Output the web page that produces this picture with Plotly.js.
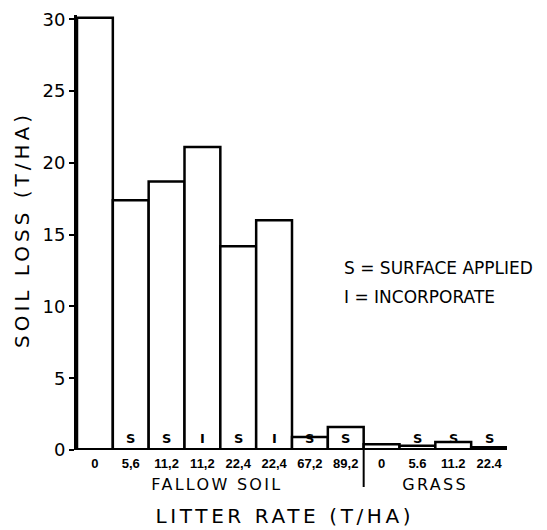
<!DOCTYPE html>
<html><head><meta charset="utf-8">
<script src="https://cdn.plot.ly/plotly-3.0.1.min.js"></script>
<style>html,body{margin:0;padding:0;background:#fff;}#c{width:547px;height:530px;}</style>
</head><body><div id="c"></div>
<script>
const rateLabels = ["0","5,6","11,2","11,2","22,4","22,4","67,2","89,2","0","5.6","11.2","22.4"];
const soilLoss = [30.1, 17.4, 18.7, 21.1, 14.2, 16.0, 0.9, 1.6, 0.4, 0.3, 0.55, 0.2];
const treatment = ["", "S", "S", "I", "S", "I", "S", "S", "", "S", "S", "S"];
const groups = ["FALLOW SOIL", "GRASS"];
const legendLines = ["S = SURFACE APPLIED", "I = INCORPORATE"];
const xTitle = "LITTER RATE (T/HA)";
const yTitle = "SOIL LOSS (T/HA)";

const idx = soilLoss.map((_, i) => i);
const font = "DejaVu Sans, Liberation Sans, sans-serif";
const tickFontFamily = "Liberation Sans, Arial, sans-serif";
const L = 77, R = 40, T = 15, B = 80, W = 547, H = 530;
const PW = W - L - R, PH = H - T - B;
const px = x => (x - L) / PW;
const py = y => 1 - (y - T) / PH;

const spacing = {};
const annotations = [];
treatment.forEach((t, i) => {
  if (t) annotations.push({x: i, y: 0, xref: "x", yref: "y", text: "<b>" + t + "</b>", showarrow: false,
    yanchor: "bottom", yshift: 2, font: {family: font, size: 13, color: "#000"}});
});
const groupPos = [[217, 484], [435, 484]];
groups.forEach((g, k) => {
  annotations.push({x: px(groupPos[k][0]), y: py(groupPos[k][1]), xref: "paper", yref: "paper", text: g, showarrow: false,
    yanchor: "middle", xanchor: "center", borderpad: 0, font: {family: font, size: 16, color: "#000"}});
  spacing[g] = 2.3;
});
legendLines.forEach((l, k) => {
  annotations.push({x: px(342), y: py(268 + 29 * k), xref: "paper", yref: "paper",
    text: l, showarrow: false, xanchor: "left", yanchor: "middle", font: {family: font, size: 17, color: "#000"}});
});
annotations.push({x: px(285), y: py(530), xref: "paper", yref: "paper", text: xTitle, showarrow: false,
  xanchor: "center", yanchor: "bottom", font: {family: font, size: 20, color: "#000"}});
spacing[xTitle] = 3.6;
annotations.push({x: px(22), y: py(230), xref: "paper", yref: "paper", text: yTitle, showarrow: false, textangle: -90,
  xanchor: "center", yanchor: "middle", font: {family: font, size: 20, color: "#000"}});
spacing[yTitle] = 4;

const shapes = [
  {type: "line", xref: "x", yref: "paper", x0: 7.5, x1: 7.5, y0: 0, y1: -37 / PH, line: {color: "#000", width: 2}},
  {type: "line", xref: "x", yref: "y", x0: -0.55, x1: 11.55, y0: 0, y1: 0, line: {color: "#000", width: 4}}
];

const trace = {
  type: "bar", x: idx, y: soilLoss, width: 1,
  marker: {color: "#fff", line: {color: "#000", width: 2.5}},
  cliponaxis: false, hoverinfo: "none"
};

const layout = {
  width: W, height: H,
  margin: {l: L, r: R, t: T, b: B},
  paper_bgcolor: "#fff", plot_bgcolor: "#fff",
  showlegend: false,
  bargap: 0,
  font: {family: font, color: "#000"},
  xaxis: {
    range: [-0.5, 11.5], tickvals: idx, ticktext: rateLabels,
    showgrid: false, zeroline: false, showline: false, ticks: "",
    ticklabelstandoff: 4,
    tickfont: {family: tickFontFamily, size: 13, color: "#000", weight: "bold"}
  },
  yaxis: {
    range: [0, 30.3], tickvals: [0, 5, 10, 15, 20, 25, 30],
    showgrid: false, zeroline: false, showline: true, linecolor: "#000", linewidth: 3,
    ticks: "outside", ticklen: 5, tickwidth: 2, tickcolor: "#000",
    tickfont: {family: font, size: 18, color: "#000"}
  },
  annotations: annotations,
  shapes: shapes
};

Plotly.newPlot("c", [trace], layout, {displayModeBar: false, staticPlot: true}).then(() => {
  document.querySelectorAll("#c .annotation-text").forEach(el => {
    const s = spacing[el.textContent];
    if (s) el.style.letterSpacing = s + "px";
  });
});
</script>
</body></html>
